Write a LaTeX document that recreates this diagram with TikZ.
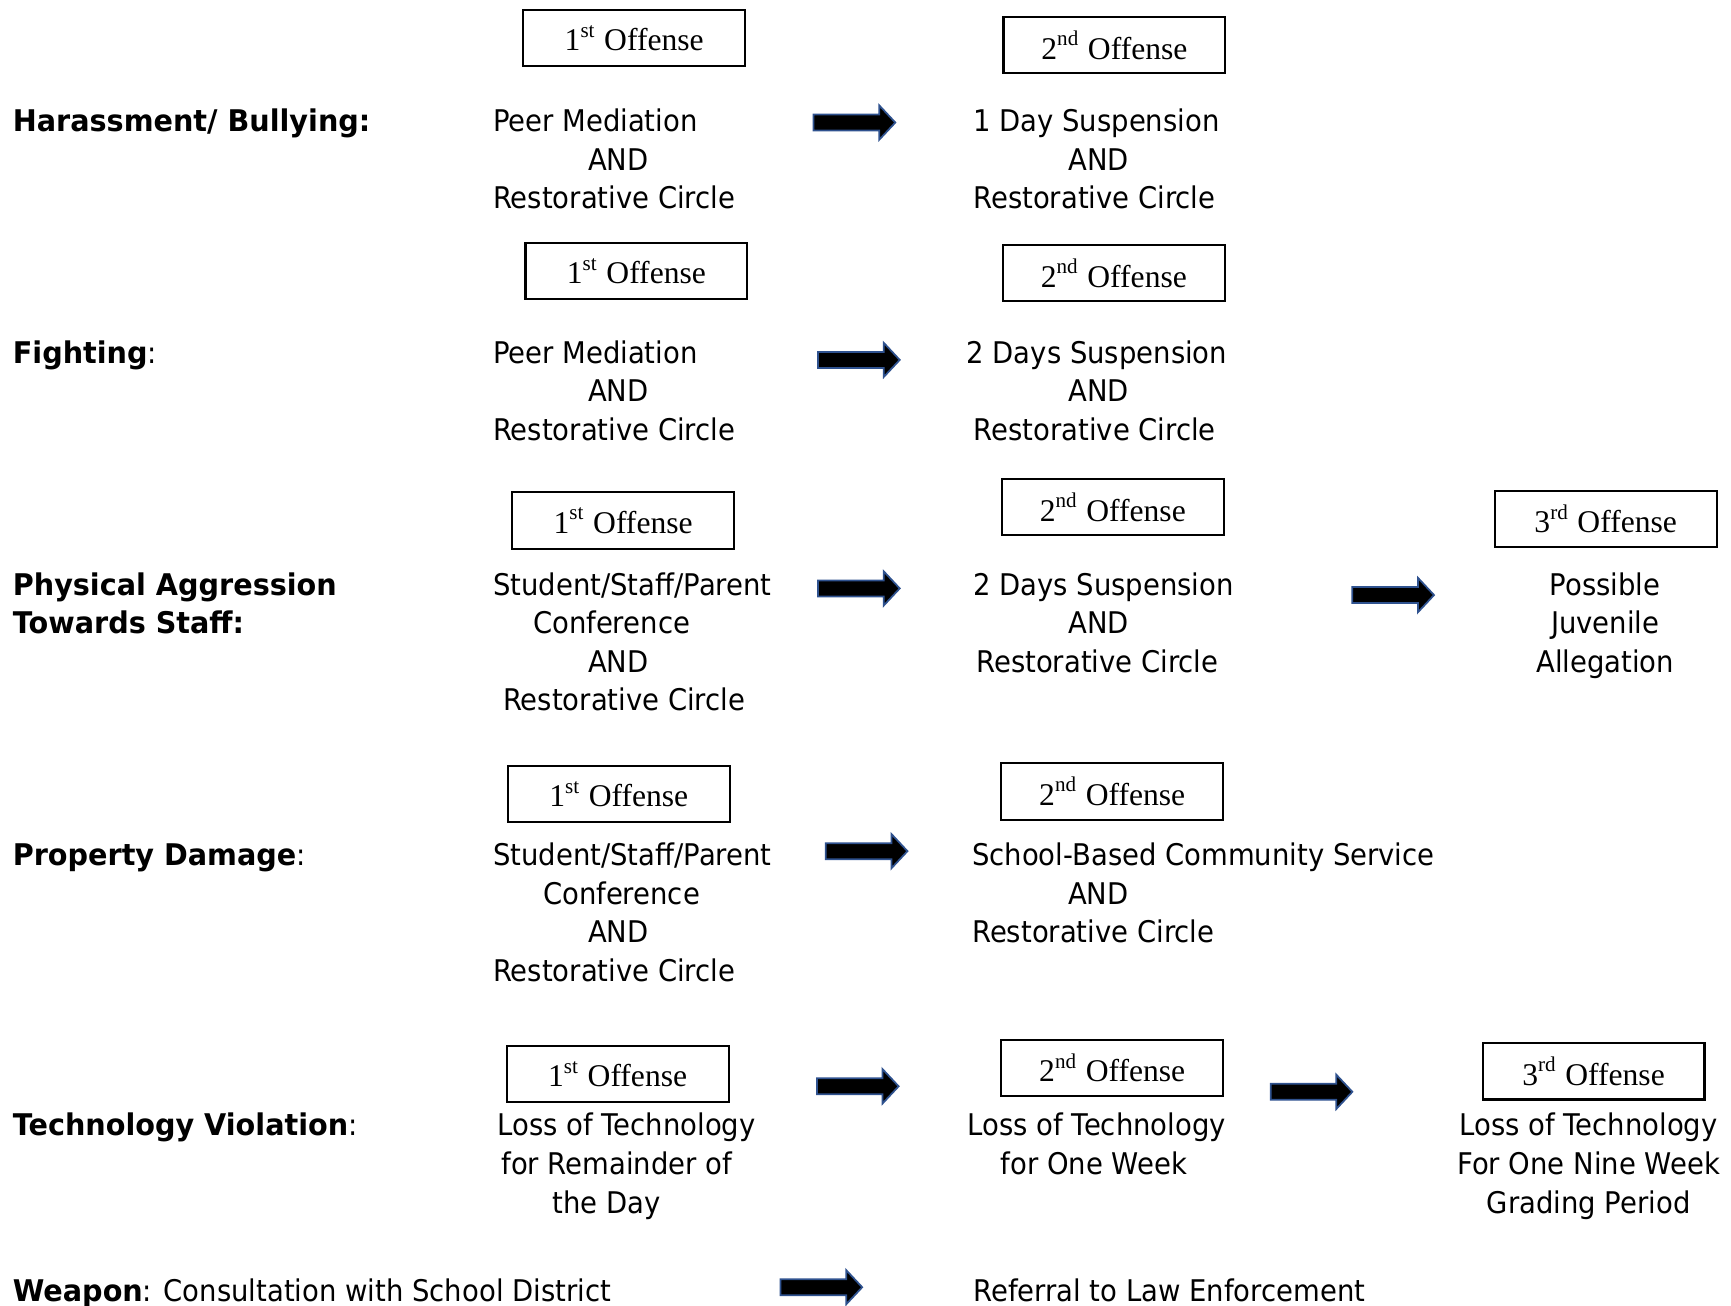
\documentclass[tikz,border=0pt]{standalone}
\usepackage{fontspec}
\usepackage{xcolor}
\usepackage{tikz}
\setmainfont{DejaVu Sans}[UprightFeatures={FakeStretch=0.92},BoldFeatures={FakeStretch=0.96}]
\newfontfamily\offensefont{Liberation Serif}
\definecolor{arrowblue}{HTML}{2F528F}

\tikzset{
  offense/.style={draw, line width=0.6pt, minimum width=2.22cm, minimum height=0.563cm,
    inner sep=0pt, font=\offensefont\fontsize{9}{11}\selectfont},
  conduct/.style={anchor=base west, inner sep=0pt, align=left,
    font=\fontsize{8.5}{11}\selectfont\bfseries},
  consequence/.style={anchor=base west, inner sep=0pt, align=left,
    font=\fontsize{8.5}{11}\selectfont},
  centered/.style={consequence, anchor=base, align=center},
  blockarrow/.pic={
    \draw[fill=black, draw=arrowblue, line width=0.5pt]
      (0,-7.25) -- (59.5,-7.25) -- (59.5,-15.5) -- (74,0) --
      (59.5,15.5) -- (59.5,7.25) -- (0,7.25) -- cycle;
  }
}

\begin{document}
\begin{tikzpicture}[x=0.01104cm, y=-0.01104cm]
                \useasboundingbox (0,0) rectangle (1568,1183);

                \node[conduct] (harass) at (11,119) {Harassment/ Bullying:};
                \node[offense] (harass1st) at (574.5,34.5) {1\textsuperscript{st} Offense};
                \node[offense] (harass2nd) at (1009.5,41) {2\textsuperscript{nd} Offense};
                \node[consequence] (harassA) at (446,189) {Peer Mediation\\\hspace*{0.95cm}AND\\Restorative Circle};
                \node[consequence] (harassB) at (881,189) {1 Day Suspension\\\hspace*{0.95cm}AND\\Restorative Circle};
                \pic at (737,111) {blockarrow};

                \node[conduct] (fight) at (11,329) {Fighting\textmd{:}};
                \node[offense] (fight1st) at (576.5,245.5) {1\textsuperscript{st} Offense};
                \node[offense] (fight2nd) at (1009,247.5) {2\textsuperscript{nd} Offense};
                \node[consequence] (fightA) at (446,399) {Peer Mediation\\\hspace*{0.95cm}AND\\Restorative Circle};
                \node[consequence] (fightB) at (875,399) {2 Days Suspension\\\hspace*{1.02cm}AND\\\hspace*{0.07cm}Restorative Circle};
                \pic at (741,326) {blockarrow};

                \node[conduct] (aggr) at (11,574) {Physical Aggression\\Towards Staff:};
                \node[offense] (aggr1st) at (564.5,471.5) {1\textsuperscript{st} Offense};
                \node[offense] (aggr2nd) at (1008,459.5) {2\textsuperscript{nd} Offense};
                \node[offense] (aggr3rd) at (1454.5,470) {3\textsuperscript{rd} Offense};
                \node[consequence] (aggrA) at (446,644) {Student/Staff/Parent\\\hspace*{0.40cm}Conference\\\hspace*{0.95cm}AND\\\hspace*{0.10cm}Restorative Circle};
                \node[consequence] (aggrB) at (881,609) {2 Days Suspension\\\hspace*{0.95cm}AND\\\hspace*{0.03cm}Restorative Circle};
                \node[centered] (aggrC) at (1454,609) {Possible\\Juvenile\\Allegation};
                \pic at (741,533) {blockarrow};
                \pic at (1225,539) {blockarrow};

                \node[conduct] (damage) at (11,784) {Property Damage\textmd{:}};
                \node[offense] (damage1st) at (560.5,719.5) {1\textsuperscript{st} Offense};
                \node[offense] (damage2nd) at (1007.5,717) {2\textsuperscript{nd} Offense};
                \node[consequence] (damageA) at (446,889) {Student/Staff/Parent\\\hspace*{0.50cm}Conference\\\hspace*{0.95cm}AND\\Restorative Circle};
                \node[consequence] (damageB) at (880,854) {School-Based Community Service\\\hspace*{0.96cm}AND\\Restorative Circle};
                \pic at (748,771) {blockarrow};

                \node[conduct] (tech) at (11,1029) {Technology Violation\textmd{:}};
                \node[offense] (tech1st) at (559.5,973) {1\textsuperscript{st} Offense};
                \node[offense] (tech2nd) at (1007.5,967.5) {2\textsuperscript{nd} Offense};
                \node[offense] (tech3rd) at (1443.5,970.5) {3\textsuperscript{rd} Offense};
                \node[consequence] (techA) at (450,1099) {Loss of Technology\\\hspace*{0.04cm}for Remainder of\\\hspace*{0.55cm}the Day};
                \node[consequence] (techB) at (876,1064) {Loss of Technology\\\hspace*{0.33cm}for One Week};
                \node[centered] (techC) at (1439,1099) {Loss of Technology\\For One Nine Week\\Grading Period};
                \pic at (740,984) {blockarrow};
                \pic at (1151,989) {blockarrow};

                \node[conduct] (weapon) at (11,1179) {Weapon\textmd{: Consultation with School District}};
                \node[consequence] (weaponB) at (881,1179) {Referral to Law Enforcement};
                \pic at (707,1166) {blockarrow};
            \end{tikzpicture}
\end{document}
